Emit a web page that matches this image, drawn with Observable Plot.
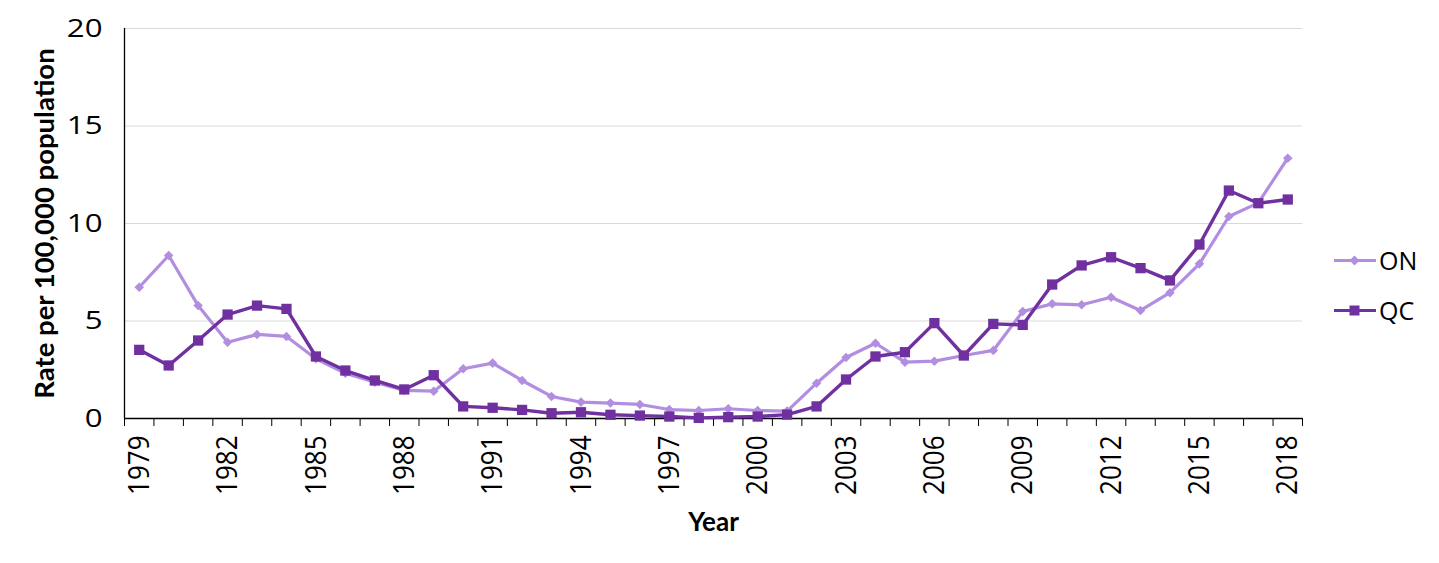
<!DOCTYPE html>
<html>
<head>
<meta charset="utf-8">
<script src="https://cdn.jsdelivr.net/npm/d3@7"></script>
<script src="https://cdn.jsdelivr.net/npm/@observablehq/plot@0.6"></script>
<style>
  body { margin: 0; background: #fff; }
  #wrap { position: relative; width: 1439px; height: 563px; }
  .leg { position: absolute; left: 1334px; display: flex; align-items: center; font-family: "Open Sans", sans-serif; font-size: 25px; color: #000; }
  .leg svg { display: block; margin-right: 3px; }
</style>
</head>
<body>
<div id="wrap"></div>
<script>
const years = d3.range(1979, 2019);
const onValues = [6.73, 8.36, 5.79, 3.91, 4.31, 4.21, 3.06, 2.32, 1.86, 1.44,
                  1.40, 2.55, 2.84, 1.95, 1.13, 0.84, 0.79, 0.72, 0.46, 0.41,
                  0.50, 0.41, 0.38, 1.81, 3.13, 3.86, 2.89, 2.94, 3.23, 3.49,
                  5.49, 5.88, 5.83, 6.22, 5.54, 6.45, 7.93, 10.36, 11.06, 13.35];
const qcValues = [3.52, 2.72, 4.00, 5.33, 5.79, 5.62, 3.18, 2.46, 1.95, 1.49,
                  2.22, 0.62, 0.55, 0.44, 0.27, 0.32, 0.19, 0.15, 0.10, 0.03,
                  0.07, 0.10, 0.20, 0.62, 2.00, 3.18, 3.40, 4.89, 3.23, 4.85,
                  4.80, 6.87, 7.85, 8.27, 7.71, 7.08, 8.92, 11.69, 11.04, 11.23];
const yearTickLabels = [1979, 1982, 1985, 1988, 1991, 1994, 1997, 2000, 2003, 2006, 2009, 2012, 2015, 2018];
const yTicks = [0, 5, 10, 15, 20];
const seriesNames = ["ON", "QC"];
const seriesColors = ["#b28ee0", "#7030a0"];

const onData = years.map((year, i) => ({year, value: onValues[i]}));
const qcData = years.map((year, i) => ({year, value: qcValues[i]}));
const boundaries = [...years.map(y => y - 0.5), years[years.length - 1] + 0.5];

const chart = Plot.plot({
  width: 1439,
  height: 563,
  marginLeft: 124,
  marginRight: 137,
  marginTop: 28,
  marginBottom: 145,
  style: {fontFamily: "'Open Sans', sans-serif", fontSize: "26px", color: "#000", background: "#fff"},
  x: {domain: [boundaries[0], boundaries[boundaries.length - 1]]},
  y: {domain: [0, 20]},
  marks: [
    Plot.gridY(yTicks.filter(d => d > 0), {stroke: "#d9d9d9", strokeOpacity: 1, strokeWidth: 1}),
    Plot.axisY(yTicks, {tickSize: 0, tickPadding: 22, label: null, fontSize: 26}),
    Plot.axisX(boundaries, {tickSize: 8, tickFormat: () => "", label: null, stroke: "#000"}),
    Plot.axisX(yearTickLabels, {tickSize: 0, tickRotate: -90, tickPadding: 17, tickFormat: d => String(d), label: null, fontSize: 26}),
    Plot.ruleY([0], {stroke: "#000", strokeWidth: 1.3}),
    Plot.ruleX([boundaries[0]], {stroke: "#000", strokeWidth: 1.3}),
    Plot.line(onData, {x: "year", y: "value", stroke: seriesColors[0], strokeWidth: 3.2}),
    Plot.dot(onData, {x: "year", y: "value", symbol: "diamond2", r: 4.3, fill: seriesColors[0], stroke: "none"}),
    Plot.line(qcData, {x: "year", y: "value", stroke: seriesColors[1], strokeWidth: 3.4}),
    Plot.dot(qcData, {x: "year", y: "value", symbol: "square", r: 5.8, fill: seriesColors[1], stroke: "none"}),
    Plot.text(["Rate per 100,000 population"], {frameAnchor: "left", textAnchor: "middle", rotate: -90, dx: -79, fontFamily: "Lato", fontWeight: "bold", fontSize: 27.5}),
    Plot.text(["Year"], {frameAnchor: "bottom", lineAnchor: "middle", dy: 104, fontFamily: "Lato", fontWeight: "bold", fontSize: 26})
  ]
});

const wrap = document.getElementById("wrap");
wrap.appendChild(chart);

// widen tick label glyphs slightly (reference text is horizontally stretched)
function stretch(sel, sx, sy) {
  d3.select(chart).selectAll(sel).each(function() {
    if (!this.textContent) return;
    const b = this.getBBox();
    const ax = b.x + b.width, ay = b.y + b.height / 2;
    const t = this.getAttribute("transform") || "";
    this.setAttribute("transform", `${t} translate(${ax},${ay}) scale(${sx},${sy}) translate(${-ax},${-ay})`);
  });
}
stretch('g[aria-label="y-axis tick label"] text', 1.2, 1);
stretch('g[aria-label="x-axis tick label"] text', 1, 1.13);

// legend
const legendTops = [243, 293];
seriesNames.forEach((name, i) => {
  const item = document.createElement("div");
  item.className = "leg";
  item.style.top = legendTops[i] + "px";
  const marker = i === 0
    ? `<rect x="17" y="6" width="7" height="7" transform="rotate(45 20.5 9.5)" fill="${seriesColors[i]}"/>`
    : `<rect x="15.5" y="4.5" width="10" height="10" fill="${seriesColors[i]}"/>`;
  item.innerHTML = `<svg width="42" height="19"><line x1="0" x2="42" y1="9.5" y2="9.5" stroke="${seriesColors[i]}" stroke-width="3"/>${marker}</svg><span>${name}</span>`;
  wrap.appendChild(item);
});
</script>
</body>
</html>
